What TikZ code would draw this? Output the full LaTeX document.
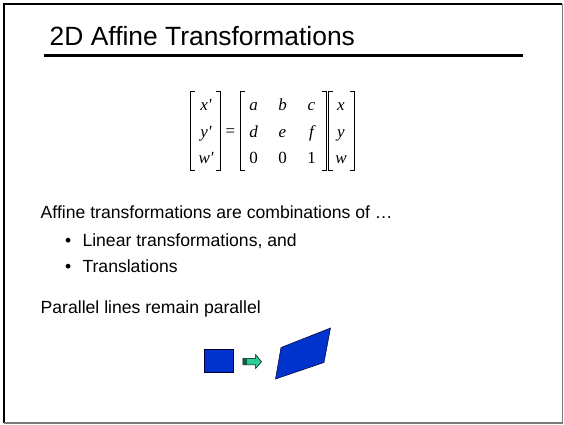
\documentclass[tikz,border=0pt]{standalone}
\usepackage{fontspec}
\setmainfont{Liberation Sans}
\newfontfamily\mtxfont{Liberation Serif}
\definecolor{slideblue}{HTML}{0033CC}
\definecolor{arrowteal}{HTML}{2DCC96}
\definecolor{arrowdark}{HTML}{0B5E3C}
\definecolor{edgegray}{HTML}{7A7A7A}
\tikzset{
  px/.style={x=1pt,y=-1pt},
  titletext/.style={anchor=base west,inner sep=0pt,font=\fontsize{26.4}{31}\selectfont},
  bodytext/.style={anchor=base west,inner sep=0pt,font=\fontsize{17.6}{21}\selectfont},
  entry/.style={anchor=base,inner sep=0pt,font=\mtxfont\fontsize{17}{20}\selectfont\itshape},
  digit/.style={anchor=base,inner sep=0pt,font=\mtxfont\fontsize{17}{20}\selectfont},
  bracket/.style={line width=0.9pt,line cap=butt},
}
\newcommand{\pr}{\textquotesingle}
\begin{document}
\begin{tikzpicture}[px]
\useasboundingbox (0,0) rectangle (564,424);
\fill[white] (0,0) rectangle (564,424);

% slide frame: dark top/left edges, grey right/bottom edges
\draw[line width=2.7pt] (2.7,4) -- (562,4);
\draw[line width=2.7pt] (4,2.7) -- (4,422.5);
\draw[edgegray,line width=1.7pt] (562.6,4) -- (562.6,423.2);
\draw[edgegray,line width=1.7pt] (4,423.2) -- (563.4,423.2);

% title and rule
\node[titletext] (title) at (49.5,45.5) {2D Affine Transformations};
\coordinate (ruleL) at (44,55.2);
\coordinate (ruleR) at (523,55.2);
\draw[line width=2.7pt] (ruleL) -- (ruleR);

% equation  [x' y' w'] = M [x y w]
\foreach \n/\l/\r in {v/190/220.5, m/240.7/326, w/328.6/354}{
  \coordinate (\n TL) at (\l,91);
  \coordinate (\n BL) at (\l,170.5);
  \coordinate (\n TR) at (\r,91);
  \coordinate (\n BR) at (\r,170.5);
  \draw[bracket] ([xshift=4.5pt]\n TL) -- (\n TL) -- (\n BL) -- ([xshift=4.5pt]\n BL);
  \draw[bracket] ([xshift=-4.5pt]\n TR) -- (\n TR) -- (\n BR) -- ([xshift=-4.5pt]\n BR);
}
\node[entry] (xp) at (206,110) {x\pr};
\node[entry] (yp) at (206,137) {y\pr};
\node[entry] (wp) at (206,163) {w\pr};
\node[digit,anchor=center] (eq) at (230.5,132.5) {=};
\node[entry] (ma) at (253.5,110) {a};
\node[entry] (mb) at (282.5,110) {b};
\node[entry] (mc) at (311.5,110) {c};
\node[entry] (md) at (253.5,137) {d};
\node[entry] (me) at (282.5,137) {e};
\node[entry] (mf) at (311.5,137) {f};
\node[digit] (m0a) at (253.5,163) {0};
\node[digit] (m0b) at (282.5,163) {0};
\node[digit] (m1) at (311.5,163) {1};
\node[entry] (vx) at (341,110) {x};
\node[entry] (vy) at (341,137) {y};
\node[entry] (vw) at (341,163) {w};

% body text
\node[bodytext] (intro) at (40.5,218.5) {Affine transformations are combinations of …};
\node[bodytext] (b1) at (65,246.7) {•};
\node[bodytext] (lin) at (82.3,246.7) {Linear transformations, and};
\node[bodytext] (b2) at (65,272.7) {•};
\node[bodytext] (tra) at (82.3,272.7) {Translations};
\node[bodytext] (par) at (40.5,313.5) {Parallel lines remain parallel};

% square -> arrow -> parallelogram
\filldraw[fill=slideblue,draw=black!80!blue,line width=0.6pt]
  (204.7,349.2) rectangle (233.3,372.6);
\filldraw[fill=arrowteal,draw=black,line width=0.5pt]
  (242.8,358.3) -- (255.5,358.3) -- (255.5,354.5) -- (261.5,361.6)
  -- (255.5,368.7) -- (255.5,364.9) -- (242.8,364.9) -- cycle;
\fill[arrowdark] (243.1,358.6) rectangle (246.8,364.6);
\filldraw[fill=slideblue,draw=black!80!blue,line width=0.5pt]
  (281,347.5) -- (330.5,328) -- (324,362.5) -- (275.5,379) -- cycle;
\end{tikzpicture}
\end{document}
